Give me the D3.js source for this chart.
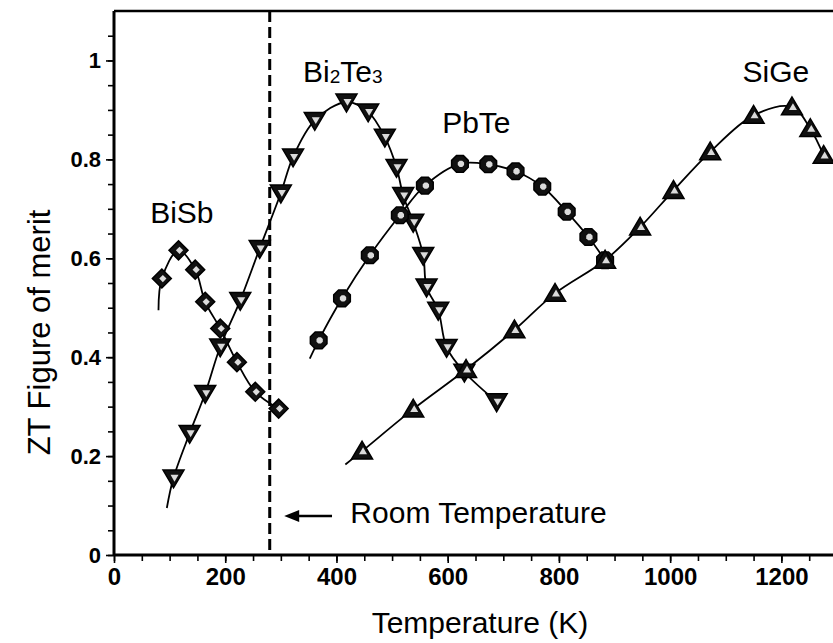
<!DOCTYPE html>
<html>
<head>
<meta charset="utf-8">
<script src="https://cdn.jsdelivr.net/npm/d3@7"></script>
<style>
  body { margin: 0; background: #fff; }
  text { font-family: Arial, "Liberation Sans", sans-serif; fill: #000; }
</style>
</head>
<body>
<div id="chart"></div>
<script>
// values: temperature (K) and ZT
var bisbT   = [86, 116, 146, 164, 191, 221, 254, 296];
var bisbZT  = [0.559, 0.616, 0.577, 0.512, 0.458, 0.39, 0.33, 0.296];

var bi2te3T  = [107, 136, 164, 191, 227, 262, 300, 322, 361, 418, 457, 487, 508, 520, 538, 556, 562, 583, 598, 630, 688];
var bi2te3ZT = [0.156, 0.246, 0.327, 0.421, 0.515, 0.62, 0.732, 0.805, 0.879, 0.916, 0.896, 0.845, 0.784, 0.727, 0.673, 0.606, 0.542, 0.495, 0.42, 0.37, 0.31];

var pbteT  = [368, 410, 460, 514, 559, 622, 673, 722, 770, 814, 853, 883];
var pbteZT = [0.434, 0.519, 0.606, 0.687, 0.747, 0.791, 0.79, 0.776, 0.745, 0.694, 0.643, 0.596];

var sigeT  = [446, 538, 633, 720, 793, 883, 946, 1006, 1072, 1150, 1219, 1252, 1276];
var sigeZT = [0.21, 0.295, 0.375, 0.455, 0.529, 0.596, 0.663, 0.737, 0.815, 0.889, 0.906, 0.862, 0.808];

// where each fitted curve starts (below the first marker)
var curveStartT  = [80, 95, 352, 416];
var curveStartZT = [0.495, 0.095, 0.397, 0.183];

var seriesNames = ["BiSb", "Bi2Te3", "PbTe", "SiGe"];
var roomTemp = 280;

var xTicks = [0, 200, 400, 600, 800, 1000, 1200];
var xTickLabels = ["0", "200", "400", "600", "800", "1000", "1200"];
var yTicks = [0, 0.2, 0.4, 0.6, 0.8, 1];
var yTickLabels = ["0", "0.2", "0.4", "0.6", "0.8", "1"];

var W = 833, H = 643;
var margin = {top: 11, left: 114, bottom: 88};
var width = 723, height = H - margin.top - margin.bottom;

var svg = d3.select("#chart").append("svg")
    .attr("width", W).attr("height", H);
var g = svg.append("g")
    .attr("transform", "translate(" + margin.left + "," + margin.top + ")");

var x = d3.scaleLinear().domain([0, 1300]).range([0, width]);
var y = d3.scaleLinear().domain([0, 1.1]).range([height, 0]);

// frame: top line
g.append("line")
    .attr("x1", 0).attr("x2", width)
    .attr("y1", 0).attr("y2", 0)
    .attr("stroke", "#000").attr("stroke-width", 2.5);

// minor ticks
g.append("g")
    .attr("transform", "translate(0," + height + ")")
    .call(d3.axisBottom(x).tickValues(d3.range(0, 1301, 50)).tickSize(6).tickFormat(""))
    .call(s => s.select(".domain").remove())
    .selectAll("line").attr("stroke-width", 1.6);
g.append("g")
    .call(d3.axisLeft(y).tickValues(d3.range(0, 1.1, 0.05)).tickSize(6).tickFormat(""))
    .call(s => s.select(".domain").remove())
    .selectAll("line").attr("stroke-width", 1.6);

// major axes
var xAxisG = g.append("g")
    .attr("transform", "translate(0," + height + ")")
    .call(d3.axisBottom(x).tickValues(xTicks).tickSize(8).tickPadding(5)
        .tickFormat(function (d, i) { return xTickLabels[i]; }));
var yAxisG = g.append("g")
    .call(d3.axisLeft(y).tickValues(yTicks).tickSize(8).tickPadding(5)
        .tickFormat(function (d, i) { return yTickLabels[i]; }));

[xAxisG, yAxisG].forEach(function (a) {
  a.select(".domain").attr("stroke-width", 3);
  a.selectAll(".tick line").attr("stroke-width", 1.6);
  a.selectAll(".tick text")
    .attr("font-weight", "bold")
    .attr("font-family", "Arial, 'Liberation Sans', sans-serif")
    .attr("fill", "#000");
});
xAxisG.selectAll(".tick text").attr("font-size", "24px");
yAxisG.selectAll(".tick text").attr("font-size", "22px");
yAxisG.select(".domain").attr("d", "M0," + height + "V0");
xAxisG.select(".domain").attr("d", "M0,0H" + width);

// axis titles
svg.append("text")
    .attr("x", 480)
    .attr("y", 633)
    .attr("text-anchor", "middle")
    .attr("font-size", "30px")
    .text("Temperature (K)");
svg.append("text")
    .attr("transform", "translate(50," + (margin.top + y(0.45)) + ") rotate(-90)")
    .attr("text-anchor", "middle")
    .attr("font-size", "31px")
    .text("ZT Figure of merit");

// room temperature dashed line
g.append("line")
    .attr("x1", x(roomTemp)).attr("x2", x(roomTemp))
    .attr("y1", 0).attr("y2", height)
    .attr("stroke", "#000")
    .attr("stroke-width", 3)
    .attr("stroke-dasharray", "11,5");

// arrow + label
var ay = y(0.079);
g.append("line")
    .attr("x1", x(318)).attr("x2", x(392))
    .attr("y1", ay).attr("y2", ay)
    .attr("stroke", "#000").attr("stroke-width", 2.5);
g.append("path")
    .attr("d", "M" + x(306) + "," + ay + "L" + (x(306) + 15) + "," + (ay - 6) + "L" + (x(306) + 15) + "," + (ay + 6) + "Z")
    .attr("fill", "#000");
g.append("text")
    .attr("x", x(425)).attr("y", y(0.064))
    .attr("font-size", "30px")
    .text("Room Temperature");

// curves
var line = d3.line()
    .x(function (d) { return x(d[0]); })
    .y(function (d) { return y(d[1]); })
    .curve(d3.curveCatmullRom.alpha(0.5));

var allT = [bisbT, bi2te3T, pbteT, sigeT];
var allZT = [bisbZT, bi2te3ZT, pbteZT, sigeZT];

allT.forEach(function (ts, k) {
  var pts = [[curveStartT[k], curveStartZT[k]]].concat(ts.map(function (t, i) { return [t, allZT[k][i]]; }));
  g.append("path")
    .datum(pts)
    .attr("d", line)
    .attr("fill", "none")
    .attr("stroke", "#000")
    .attr("stroke-width", 1.8);
});

// marker shapes
function diamond(r) { return "M0," + (-r) + "L" + r + ",0L0," + r + "L" + (-r) + ",0Z"; }
function triDown(r) { return "M" + (-r) + "," + (-r * 0.75) + "L" + r + "," + (-r * 0.75) + "L0," + (r * 0.95) + "Z"; }
function triUp(r) { return "M" + (-r) + "," + (r * 0.75) + "L" + r + "," + (r * 0.75) + "L0," + (-r * 0.95) + "Z"; }
function octagon(r) {
  var p = d3.range(8).map(function (i) {
    var a = Math.PI / 8 + i * Math.PI / 4;
    return [r * Math.cos(a), r * Math.sin(a)];
  });
  return "M" + p.join("L") + "Z";
}
var shapes = [diamond, triDown, octagon, triUp];
var sizes = [9.5, 10.5, 9, 10.5];

allT.forEach(function (ts, k) {
  var mg = g.append("g").selectAll("g")
    .data(ts.map(function (t, i) { return [t, allZT[k][i]]; }))
    .enter().append("g")
      .attr("transform", function (d) { return "translate(" + x(d[0]) + "," + y(d[1]) + ")"; });
  mg.append("path")
    .attr("d", shapes[k](sizes[k]))
    .attr("fill", "#111")
    .attr("stroke", "#000")
    .attr("stroke-width", 1.5);
  mg.append("path")
    .attr("d", shapes[k](sizes[k] * 0.38))
    .attr("transform", "translate(1,0)")
    .attr("fill", "#fff")
    .attr("opacity", 0.85);
});

// series labels
function seriesLabel(t, z, parts) {
  var txt = g.append("text")
    .attr("x", x(t)).attr("y", y(z))
    .attr("font-size", "30px");
  parts.forEach(function (p) {
    txt.append("tspan")
      .attr("font-size", p[1] ? "19px" : "30px")
      .attr("dy", p[1] ? 1 : (p[2] || 0))
      .text(p[0]);
  });
}
seriesLabel(65, 0.671, [[seriesNames[0]]]);
seriesLabel(340, 0.956, [["Bi"], ["2", true], ["Te", false, -1], ["3", true]]);
seriesLabel(590, 0.853, [[seriesNames[2]]]);
seriesLabel(1130, 0.956, [[seriesNames[3]]]);
</script>
</body>
</html>
